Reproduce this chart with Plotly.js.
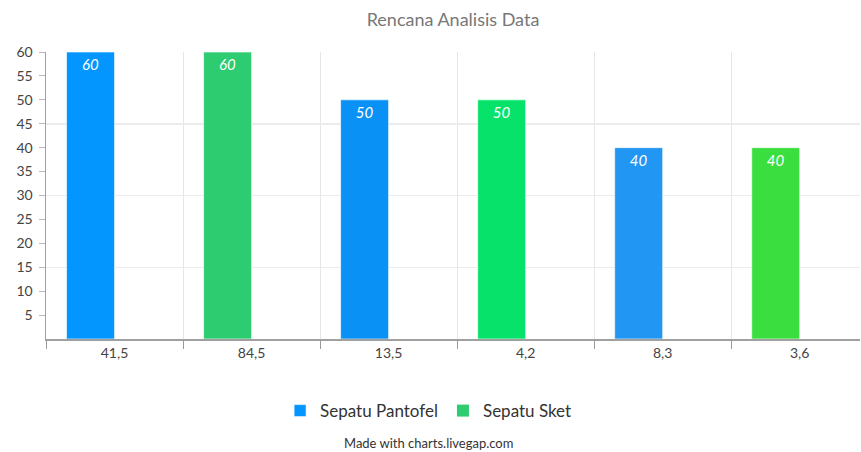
<!DOCTYPE html>
<html>
<head>
<meta charset="utf-8">
<script src="https://cdn.plot.ly/plotly-3.0.1.min.js"></script>
<style>html,body{margin:0;padding:0;background:#fff;}#chart{width:861px;height:452px;}</style>
</head>
<body>
<div id="chart"></div>
<script>
const categories = ["41,5", "84,5", "13,5", "4,2", "8,3", "3,6"];
const pantofelValues = [60, 60, 50, 50, 40, 40];
const sketValues = [null, null, null, null, null, null];
const barColors = ["#0396FF", "#2ECC71", "#0A91F5", "#07E36A", "#2196F3", "#3ADF3F"];
const seriesNames = ["Sepatu Pantofel", "Sepatu Sket"];
const seriesColors = ["#0396FF", "#2ECC71"];
const yTicks = [5, 10, 15, 20, 25, 30, 35, 40, 45, 50, 55, 60];

const FONT = "Lato, 'Open Sans', sans-serif";

const traces = [
  {
    type: "bar", name: seriesNames[0], x: categories, y: pantofelValues,
    marker: {color: barColors, line: {color: "rgba(255,255,255,0.6)", width: 1}},
    text: pantofelValues.map(String), textposition: "inside", insidetextanchor: "end",
    textangle: 0,
    textfont: {color: "#ffffff", size: 15, family: FONT, style: "italic"},
    hoverinfo: "none", showlegend: true
  },
  {
    type: "bar", name: seriesNames[1], x: categories, y: sketValues,
    marker: {color: seriesColors[1]}, hoverinfo: "none", showlegend: true
  },
  // invisible trace on the overlay axis that draws the wider gridlines
  {type: "scatter", x: [categories[0]], y: [null], yaxis: "y2", showlegend: false, hoverinfo: "none"}
];

const layout = {
  width: 861, height: 452,
  margin: {l: 46, r: 1, t: 52, b: 113},
  paper_bgcolor: "#fff", plot_bgcolor: "#fff",
  font: {family: FONT, color: "#444"},
  title: {text: "Rencana Analisis Data", x: 0.5, xref: "paper", xanchor: "center", y: 0.956, yanchor: "middle",
          font: {size: 18, color: "#777", family: FONT}},
  barmode: "group", bargap: 0.3, bargroupgap: 0,
  xaxis: {
    type: "category", categoryorder: "array", categoryarray: categories,
    range: [-0.5, 5.44],
    tickson: "boundaries", ticks: "outside", ticklen: 8, tickcolor: "#999", tickwidth: 1,
    showgrid: true, gridcolor: "#e6e6e6", gridwidth: 1,
    showline: true, linecolor: "#a0a0a0", linewidth: 2,
    tickfont: {size: 14, color: "#444"}, fixedrange: true, zeroline: false
  },
  yaxis: {
    range: [0, 60], tickvals: yTicks, ticktext: yTicks.map(String),
    ticks: "outside", ticklen: 6, tickcolor: "#bbb", ticklabelstandoff: 3,
    showgrid: false, showline: true, linecolor: "#a0a0a0", linewidth: 1.5,
    tickfont: {size: 14, color: "#444"}, zeroline: false, fixedrange: true
  },
  yaxis2: {
    range: [0, 60], overlaying: "y", side: "left", dtick: 15, tick0: 0,
    showticklabels: false, ticks: "", showgrid: true, gridcolor: "#ececec", gridwidth: 1.5,
    zeroline: false, showline: false, fixedrange: true
  },
  legend: {
    orientation: "h", x: 0.47, xanchor: "center", y: -0.251, yanchor: "middle",
    font: {size: 17, color: "#333", family: FONT}, itemwidth: 30, traceorder: "normal"
  },
  annotations: [{
    text: "Made with charts.livegap.com", xref: "paper", yref: "paper",
    x: 0.47, y: -0.362, xanchor: "center", yanchor: "middle", showarrow: false,
    font: {size: 13, color: "#333", family: FONT}
  }]
};

Plotly.newPlot("chart", traces, layout, {displayModeBar: false, staticPlot: true});
</script>
</body>
</html>
